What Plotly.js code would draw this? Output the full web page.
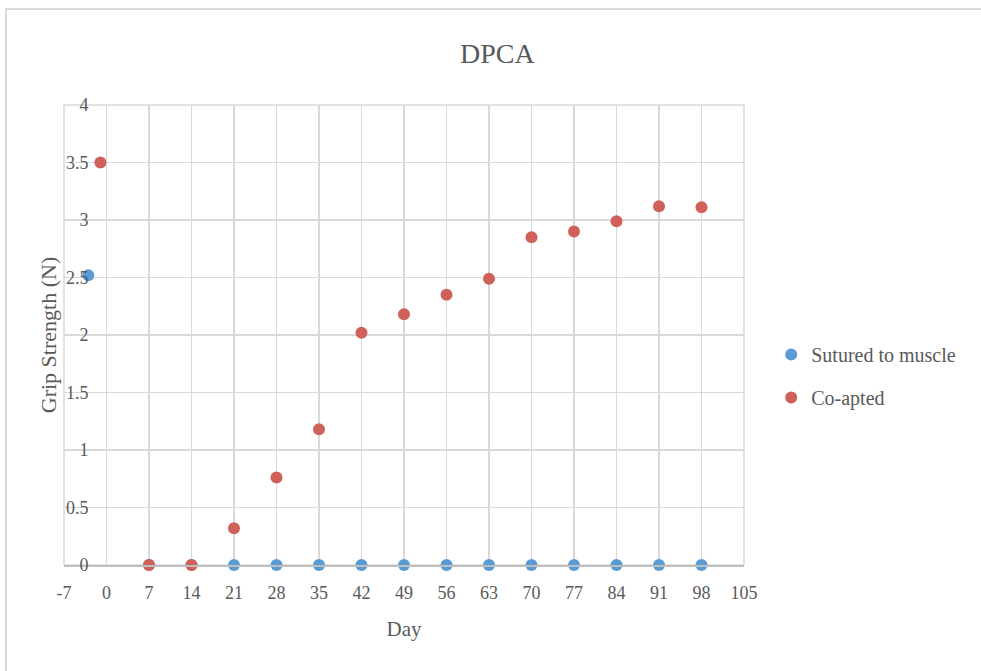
<!DOCTYPE html>
<html>
<head>
<meta charset="utf-8">
<script src="https://cdn.plot.ly/plotly-3.0.1.min.js"></script>
<style>
  html, body { margin: 0; padding: 0; background: #fff; }
  #chart { width: 981px; height: 671px; }
  #frame { position: absolute; left: 5px; top: 8px; width: 990px; height: 700px;
           border-left: 2px solid #d9d9d9; border-top: 2px solid #d9d9d9; pointer-events: none; }
</style>
</head>
<body>
<div id="chart"></div>
<div id="frame"></div>
<script>
const chartTitle = "DPCA";
const xTitle = "Day";
const yTitle = "Grip Strength (N)";
const seriesNames = ["Sutured to muscle", "Co-apted"];

const suturedDays = [-3, 7, 14, 21, 28, 35, 42, 49, 56, 63, 70, 77, 84, 91, 98];
const suturedValues = [2.52, 0, 0, 0, 0, 0, 0, 0, 0, 0, 0, 0, 0, 0, 0];

const coaptedDays = [-1, 7, 14, 21, 28, 35, 42, 49, 56, 63, 70, 77, 84, 91, 98];
const coaptedValues = [3.50, 0, 0, 0.32, 0.76, 1.18, 2.02, 2.18, 2.35, 2.49, 2.85, 2.90, 2.99, 3.12, 3.11];

const xTicks = [-7, 0, 7, 14, 21, 28, 35, 42, 49, 56, 63, 70, 77, 84, 91, 98, 105];
const yTicks = [0, 0.5, 1, 1.5, 2, 2.5, 3, 3.5, 4];

const FONT = "Liberation Serif, Times New Roman, serif";
const GREY = "#595959";

const traces = [
  { x: suturedDays, y: suturedValues, name: seriesNames[0], type: "scatter", mode: "markers",
    legendgroup: "a", marker: { color: "#5B9BD5", size: 12 }, cliponaxis: false },
  { x: coaptedDays, y: coaptedValues, name: seriesNames[1], type: "scatter", mode: "markers",
    legendgroup: "b", marker: { color: "#D0605A", size: 12 }, cliponaxis: false }
];

const layout = {
  width: 981, height: 671,
  margin: { l: 64, r: 237, t: 105, b: 106 },
  paper_bgcolor: "#ffffff", plot_bgcolor: "#ffffff",
  font: { family: FONT, color: GREY, size: 18 },
  title: { text: chartTitle, font: { family: FONT, size: 28, color: GREY },
           x: 0.507, xanchor: "center", y: 0.92, yanchor: "middle" },
  xaxis: {
    range: [-7, 105], tickvals: xTicks, ticktext: xTicks.map(String),
    showgrid: true, gridcolor: "#d9d9d9", gridwidth: 1.5,
    zeroline: false, showline: true, linecolor: "#bfbfbf", linewidth: 2,
    ticks: "", ticklabelstandoff: 10,
    tickfont: { family: FONT, size: 18, color: GREY },
    title: { text: xTitle, font: { family: FONT, size: 21, color: GREY }, standoff: 20 },
    fixedrange: true
  },
  yaxis: {
    range: [0, 4], tickvals: yTicks, ticktext: yTicks.map(String),
    anchor: "free", position: 0.036,
    showgrid: true, gridcolor: "#d9d9d9", gridwidth: 1.5,
    zeroline: false, showline: false,
    ticks: "", tickfont: { family: FONT, size: 18, color: GREY },
    title: { text: yTitle, font: { family: FONT, size: 22, color: GREY }, standoff: 2 },
    fixedrange: true
  },
  shapes: [
    { type: "rect", xref: "paper", yref: "paper", x0: 0, x1: 1, y0: 0, y1: 1,
      line: { color: "#d9d9d9", width: 1.5 }, layer: "below" }
  ],
  showlegend: true,
  legend: {
    x: 1.04, xanchor: "left", y: 0.50, yanchor: "top",
    traceorder: "grouped", tracegroupgap: 14,
    font: { family: FONT, size: 20, color: GREY },
    bgcolor: "rgba(0,0,0,0)", itemwidth: 30
  }
};

Plotly.newPlot("chart", traces, layout, { displayModeBar: false, staticPlot: true });
</script>
</body>
</html>
